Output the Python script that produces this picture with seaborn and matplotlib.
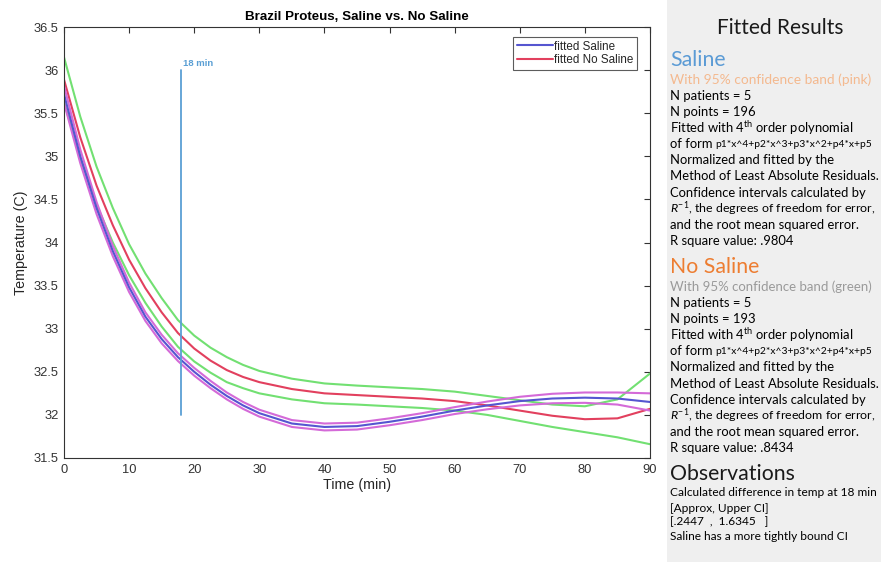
import numpy as np
import pandas as pd
import matplotlib
matplotlib.use("Agg")
import matplotlib.pyplot as plt
import seaborn as sns
from matplotlib.patches import Rectangle
from matplotlib.lines import Line2D

# ---------------- data ----------------
times = [0, 2.5, 5, 7.5, 10, 12.5, 15, 17.5, 20, 22.5, 25, 27.5, 30, 35, 40, 45,
         50, 55, 60, 65, 70, 75, 80, 85, 90]

saline_fit = [35.72, 35.00, 34.40, 33.90, 33.48, 33.14, 32.88, 32.67, 32.50,
              32.35, 32.22, 32.11, 32.02, 31.90, 31.86, 31.87, 31.92, 31.98,
              32.05, 32.11, 32.16, 32.19, 32.20, 32.19, 32.15]
saline_upper = [35.82, 35.08, 34.47, 33.96, 33.535, 33.19, 32.93, 32.715, 32.545,
                32.395, 32.26, 32.15, 32.06, 31.94, 31.90, 31.91, 31.96, 32.02,
                32.09, 32.155, 32.21, 32.245, 32.26, 32.26, 32.25]
saline_lower = [35.62, 34.92, 34.33, 33.84, 33.425, 33.09, 32.83, 32.625, 32.455,
                32.31, 32.18, 32.07, 31.98, 31.86, 31.82, 31.83, 31.88, 31.94,
                32.01, 32.065, 32.11, 32.135, 32.14, 32.12, 32.05]

nosaline_fit = [35.89, 35.22, 34.66, 34.20, 33.80, 33.47, 33.19, 32.95, 32.77,
                32.63, 32.52, 32.44, 32.38, 32.30, 32.25, 32.23, 32.21, 32.19,
                32.16, 32.11, 32.05, 31.99, 31.95, 31.96, 32.07]
nosaline_upper = [36.15, 35.46, 34.88, 34.40, 33.98, 33.64, 33.355, 33.10, 32.92,
                  32.78, 32.67, 32.58, 32.51, 32.42, 32.365, 32.34, 32.32, 32.30,
                  32.27, 32.22, 32.17, 32.12, 32.10, 32.18, 32.48]
nosaline_lower = [35.63, 34.98, 34.44, 34.00, 33.62, 33.30, 33.025, 32.79, 32.62,
                  32.49, 32.38, 32.31, 32.25, 32.18, 32.135, 32.12, 32.10, 32.08,
                  32.05, 32.00, 31.93, 31.86, 31.80, 31.74, 31.66]

marker_time = 18
marker_range = [32.0, 36.0]

xticks = [0, 10, 20, 30, 40, 50, 60, 70, 80, 90]
yticks = [31.5, 32, 32.5, 33, 33.5, 34, 34.5, 35, 35.5, 36, 36.5]

title = "Brazil Proteus, Saline vs. No Saline"
legend_labels = ["fitted Saline", "fitted No Saline"]

# ---------------- style ----------------
sns.set_style("white")
plt.rcParams["font.family"] = ["Liberation Sans", "DejaVu Sans"]
plt.rcParams["mathtext.fontset"] = "custom"
plt.rcParams["mathtext.rm"] = "Lato"
plt.rcParams["mathtext.it"] = "Lato:italic"
plt.rcParams["mathtext.bf"] = "Lato:bold"

W, H = 881, 562
fig = plt.figure(figsize=(W / 100, H / 100), dpi=100)
fig.patch.set_facecolor("white")

# right info panel background
fig.patches.append(Rectangle((667 / W, 0), (W - 667) / W, 1, transform=fig.transFigure,
                             facecolor="#efefef", edgecolor="none", zorder=0))

ax = fig.add_axes([64 / W, 1 - 458 / H, (650 - 64) / W, (458 - 27) / H])

c_green = "#72e072"
c_red = "#e2405e"
c_mag = "#d46ad8"
c_blue = "#5555d0"

lw = 1.5
sns.lineplot(x=times, y=nosaline_upper, ax=ax, color=c_green, lw=lw)
sns.lineplot(x=times, y=nosaline_lower, ax=ax, color=c_green, lw=lw)
sns.lineplot(x=times, y=nosaline_fit, ax=ax, color=c_red, lw=lw)
sns.lineplot(x=times, y=saline_upper, ax=ax, color=c_mag, lw=lw)
sns.lineplot(x=times, y=saline_lower, ax=ax, color=c_mag, lw=lw)
sns.lineplot(x=times, y=saline_fit, ax=ax, color=c_blue, lw=lw)

c_marker = "#5a9fd4"
ax.plot([marker_time, marker_time], marker_range, color=c_marker, lw=1.3)
ax.text(marker_time + 0.3, marker_range[1] + 0.02, "18 min", color=c_marker,
        fontsize=6.8, fontweight="bold", ha="left", va="bottom")

ax.set_xlim(0, 90)
ax.set_ylim(31.5, 36.5)
ax.set_xticks(xticks)
ax.set_yticks(yticks)
ax.set_yticklabels([f"{v:g}" for v in yticks])
ax.tick_params(direction="in", length=4, width=0.8, colors="#333333",
               labelsize=9.3, top=True, right=True, labeltop=False, labelright=False,
               pad=4)
for s in ax.spines.values():
    s.set_color("#333333")
    s.set_linewidth(0.8)
ax.set_xlabel("Time (min)", fontsize=10.3, color="#262626", labelpad=2)
ax.set_ylabel("Temperature (C)", fontsize=10.3, color="#262626", labelpad=4)
ax.set_title(title, fontsize=9.6, fontweight="bold", color="black", pad=5)

handles = [Line2D([0], [0], color=c_blue, lw=1.5), Line2D([0], [0], color=c_red, lw=1.5)]
leg = ax.legend(handles, legend_labels, loc="upper right", fontsize=8.4, frameon=True,
                fancybox=False, edgecolor="#333333", handlelength=3.1, borderpad=0.3,
                labelspacing=0.15, handletextpad=0.1, borderaxespad=0,
                bbox_to_anchor=(1 - 13 / 586, 1 - 10 / 431))
leg.get_frame().set_linewidth(0.8)

# ---------------- right panel text ----------------
fam = ["Lato", "DejaVu Sans"]
x0 = 670 / W


def T(ypx, s, size=9.4, color="black", x=x0, **kw):
    fig.text(x, 1 - ypx / H, s, fontsize=size, color=color, family=fam,
             va="center", ha="left", **kw)


fig.text(780 / W, 1 - 28 / H, "Fitted Results", fontsize=15, family=fam,
         ha="center", va="center", color="#1a1a1a")

c_sal = "#5b9bd5"
c_nos = "#ed7d31"
c_band = "#f4b98f"
c_band2 = "#9a9a9a"

formula = "p1*x^4+p2*x^3+p3*x^2+p4*x+p5"


def block(yh, name, cname, band, cband, bsize, npts, r2):
    T(yh, name, size=15.3, color=cname)
    T(yh + 20, band, size=bsize, color=cband)
    lines = ["N patients = 5", f"N points = {npts}",
             r"Fitted with 4$^{\mathrm{th}}$ order polynomial", "of form",
             "Normalized and fitted by the", "Method of Least Absolute Residuals.",
             "Confidence intervals calculated by",
             r"$R^{-1}$, the degrees of freedom for error,",
             "and the root mean squared error.", f"R square value: {r2}"]
    y = yh + 36
    for ln in lines:
        if ln.startswith("$R"):
            T(y, ln, size=8.9)
        else:
            T(y, ln)
        if ln == "of form":
            T(y + 0.5, formula, size=7.4, x=715 / W)
        y += 16.1


block(60, "Saline", c_sal, "With 95% confidence band (pink)", c_band, 9.9, "196", ".9804")
block(267, "No Saline", c_nos, "With 95% confidence band (green)", c_band2, 9.5, "193", ".8434")

T(474, "Observations", size=15.3, color="#1a1a1a")
T(493, "Calculated difference in temp at 18 min", size=8.6)
T(508, "[Approx, Upper CI]", size=8.6)
T(522, "[.2447  ,  1.6345   ]", size=8.6)
T(537, "Saline has a more tightly bound CI", size=8.6)

fig.savefig("out.png", dpi=100)
